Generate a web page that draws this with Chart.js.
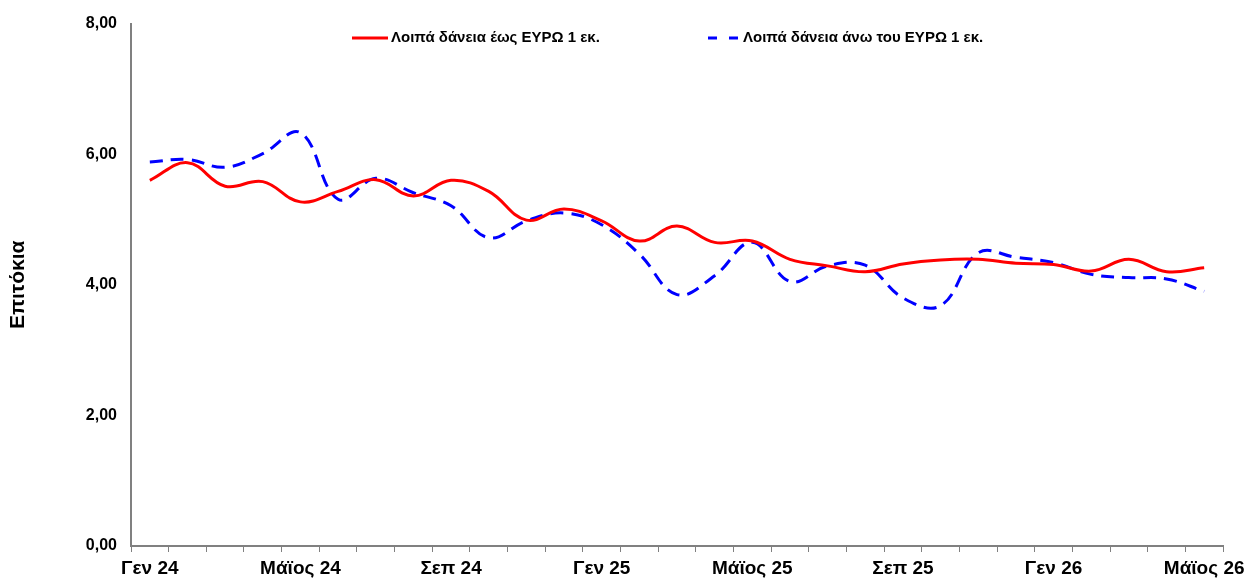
<!DOCTYPE html>
<html>
<head>
<meta charset="utf-8">
<script src="https://cdn.jsdelivr.net/npm/chart.js@4/dist/chart.umd.min.js"></script>
<style>
  html, body { margin: 0; padding: 0; background: #fff; }
  #wrap { width: 1250px; height: 582px; position: relative; }
</style>
</head>
<body>
<div id="wrap"><canvas id="chart"></canvas></div>
<script>
'use strict';

// ── Data ──────────────────────────────────────────────────────────────────
var months = [
  'Γεν 24', 'Φεβ 24', 'Μαρ 24', 'Απρ 24', 'Μάϊος 24', 'Ιουν 24', 'Ιουλ 24', 'Αυγ 24',
  'Σεπ 24', 'Οκτ 24', 'Νοε 24', 'Δεκ 24', 'Γεν 25', 'Φεβ 25', 'Μαρ 25', 'Απρ 25',
  'Μάϊος 25', 'Ιουν 25', 'Ιουλ 25', 'Αυγ 25', 'Σεπ 25', 'Οκτ 25', 'Νοε 25', 'Δεκ 25',
  'Γεν 26', 'Φεβ 26', 'Μαρ 26', 'Απρ 26', 'Μάϊος 26'
];
var upTo1m = [
  5.60, 5.87, 5.51, 5.58, 5.27, 5.43, 5.61, 5.36, 5.60, 5.43,
  4.99, 5.16, 4.98, 4.67, 4.90, 4.65, 4.67, 4.39, 4.29, 4.20,
  4.32, 4.38, 4.39, 4.33, 4.31, 4.21, 4.39, 4.20, 4.26
];
var over1m = [
  5.88, 5.92, 5.80, 6.01, 6.33, 5.31, 5.63, 5.41, 5.21, 4.72,
  4.98, 5.10, 4.92, 4.47, 3.85, 4.14, 4.65, 4.05, 4.29, 4.30,
  3.80, 3.68, 4.49, 4.42, 4.34, 4.16, 4.11, 4.09, 3.90
];
var seriesNames = ['Λοιπά δάνεια έως ΕΥΡΩ 1 εκ.', 'Λοιπά δάνεια άνω του ΕΥΡΩ 1 εκ.'];
var yTitle = 'Επιτόκια';

var FONT = "Arial, 'Liberation Sans', sans-serif";
var AXIS_GREY = '#808080';

// Excel-style legend drawn by hand at the top of the canvas
var topLegend = {
  id: 'topLegend',
  afterDraw: function(chart) {
    var ctx = chart.ctx;
    var items = [
      { x: 352, len: 36, y: 38 },
      { x: 708, len: 32, y: 38 }
    ];
    ctx.save();
    ctx.font = 'bold 15px ' + FONT;
    ctx.textBaseline = 'middle';
    ctx.textAlign = 'left';
    chart.data.datasets.forEach(function(ds, i) {
      var it = items[i];
      ctx.strokeStyle = ds.borderColor;
      ctx.lineWidth = 3;
      ctx.setLineDash(ds.borderDash && ds.borderDash.length ? [9, 12] : []);
      ctx.beginPath();
      ctx.moveTo(it.x, it.y);
      ctx.lineTo(it.x + it.len, it.y);
      ctx.stroke();
      ctx.setLineDash([]);
      ctx.fillStyle = '#000';
      ctx.fillText(ds.label, it.x + it.len + 3, it.y);
    });
    ctx.restore();
  }
};

new Chart(document.getElementById('chart'), {
  type: 'line',
  data: {
    labels: months,
    datasets: [
      {
        label: seriesNames[0],
        data: upTo1m,
        borderColor: '#FF0000',
        borderWidth: 3,
        pointRadius: 0,
        tension: 0.4,
        fill: false
      },
      {
        label: seriesNames[1],
        data: over1m,
        borderColor: '#0000FF',
        borderWidth: 3,
        borderDash: [13, 8],
        pointRadius: 0,
        tension: 0.4,
        fill: false
      }
    ]
  },
  options: {
    responsive: true,
    maintainAspectRatio: false,
    animation: false,
    layout: { padding: { top: 22, right: 27, left: 0, bottom: 0 } },
    plugins: {
      legend: { display: false },
      tooltip: { enabled: false }
    },
    scales: {
      x: {
        offset: true,
        grid: { offset: true, drawOnChartArea: false, drawTicks: true, tickLength: 6, color: AXIS_GREY, lineWidth: 1 },
        border: { display: true, color: AXIS_GREY, width: 2 },
        ticks: {
          autoSkip: false,
          maxRotation: 0,
          padding: 5,
          color: '#000',
          font: { family: FONT, size: 19, weight: 'bold' },
          callback: function(v, i) { return i % 4 === 0 ? this.getLabelForValue(v) : ''; }
        },
        afterFit: function(scale) { scale.height = 36; }
      },
      y: {
        min: 0,
        max: 8,
        grid: { drawOnChartArea: false, drawTicks: false, color: AXIS_GREY },
        border: { display: true, color: AXIS_GREY, width: 2 },
        ticks: {
          stepSize: 2,
          padding: 14,
          color: '#000',
          font: { family: FONT, size: 16, weight: 'bold' },
          callback: function(v) { return v.toFixed(2).replace('.', ','); }
        },
        title: {
          display: true,
          text: yTitle,
          color: '#000',
          font: { family: FONT, size: 21, weight: 'bold' },
          padding: { top: 6, bottom: 0 }
        },
        afterFit: function(scale) { scale.width = 131; }
      }
    }
  },
  plugins: [topLegend]
});
</script>
</body>
</html>
